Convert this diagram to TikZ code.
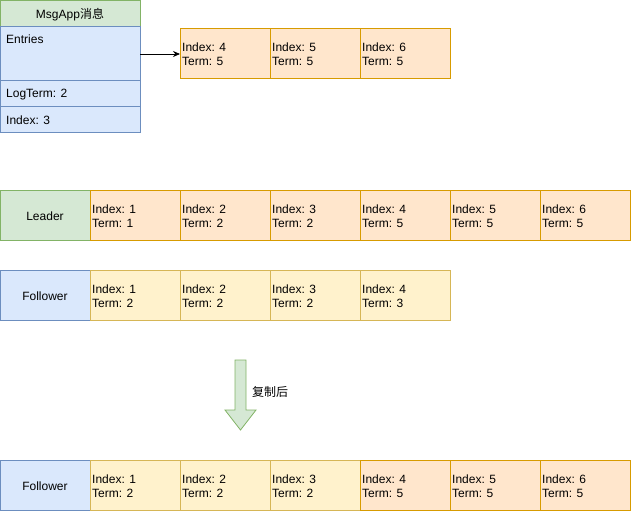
\documentclass[tikz,border=0pt]{standalone}
\usepackage{fontspec}
\setmainfont{Liberation Sans}
\newfontfamily\cjk{Noto Sans CJK SC}
\usetikzlibrary{shapes.arrows,arrows.meta}
\definecolor{gfill}{HTML}{D5E8D4}
\definecolor{gline}{HTML}{82B366}
\definecolor{bfill}{HTML}{DAE8FC}
\definecolor{bline}{HTML}{6C8EBF}
\definecolor{ofill}{HTML}{FFE6CC}
\definecolor{oline}{HTML}{D79B00}
\definecolor{yfill}{HTML}{FFF2CC}
\definecolor{yline}{HTML}{D6B656}
\tikzset{
  base/.style={inner sep=0pt,outer sep=0pt,line width=0.8pt,font=\fontsize{12}{14}\selectfont},
  gbox/.style={base,fill=gfill,draw=gline},
  bbox/.style={base,fill=bfill,draw=bline},
  ocell/.style={base,fill=ofill,draw=oline},
  ycell/.style={base,fill=yfill,draw=yline},
  ctxt/.style={font=\fontsize{12}{14}\selectfont,inner sep=0pt,align=left,anchor=west},
}
\newcommand{\cell}[6]{% name, style, x, y, index, term
  \path[#2] (#3,#4) rectangle ++(90,50);
  \node[ctxt] (#1) at (#3+2,#4+26) {Index: #5\\Term: #6};
}
\begin{document}
\begin{tikzpicture}[x=1pt,y=-1pt]
\useasboundingbox (0,0) rectangle (631,511);
% MsgApp
\path[gbox] (0.5,0.5) rectangle (140,26);
\node[base] (hdr) at (70,14.5) {MsgApp{\cjk 消息}};
\path[bbox] (0.5,26) rectangle (140,80);
\node[ctxt,anchor=north west] (ent) at (6,34.5) {Entries};
\path[bbox] (0.5,80) rectangle (140,106);
\node[ctxt] (lt) at (6,94.5) {LogTerm: 2};
\path[bbox] (0.5,106) rectangle (140,132);
\node[ctxt] (ix) at (6,120.5) {Index: 3};
\coordinate (entR) at (140,54);
\coordinate (cellL) at (180,54);
\draw[line width=0.8pt,-{Stealth[length=7pt,width=6pt]}] (entR) -- (cellL);
% top entries
\cell{t4}{ocell}{180}{28}{4}{5}
\cell{t5}{ocell}{270}{28}{5}{5}
\cell{t6}{ocell}{360}{28}{6}{5}
% Leader
\path[gbox] (0.5,190) rectangle (90,240);
\node[base] (leader) at (45,216.5) {Leader};
\cell{l1}{ocell}{90}{190}{1}{1}
\cell{l2}{ocell}{180}{190}{2}{2}
\cell{l3}{ocell}{270}{190}{3}{2}
\cell{l4}{ocell}{360}{190}{4}{5}
\cell{l5}{ocell}{450}{190}{5}{5}
\path[ocell] (540,190) rectangle (630.5,240);
\node[ctxt] (l6) at (542,216) {Index: 6\\Term: 5};
% Follower
\path[bbox] (0.5,270) rectangle (90,320);
\node[base] (follower) at (45,296.5) {Follower};
\cell{f1}{ycell}{90}{270}{1}{2}
\cell{f2}{ycell}{180}{270}{2}{2}
\cell{f3}{ycell}{270}{270}{3}{2}
\cell{f4}{ycell}{360}{270}{4}{3}
% block arrow
\path[gbox] (235,360) -- (246,360) -- (246,410) -- (256,410) -- (240.5,430) -- (225,410) -- (235,410) -- cycle;
\node[base,anchor=west] (copy) at (252,391.5) {\cjk 复制后};
% Follower after
\path[bbox] (0.5,460) rectangle (90,510.5);
\node[base] (follower2) at (45,486.5) {Follower};
\cell{g1}{ycell}{90}{460}{1}{2}
\cell{g2}{ycell}{180}{460}{2}{2}
\cell{g3}{ycell}{270}{460}{3}{2}
\cell{g4}{ocell}{360}{460}{4}{5}
\cell{g5}{ocell}{450}{460}{5}{5}
\path[ocell] (540,460) rectangle (630.5,510.5);
\node[ctxt] (g6) at (542,486) {Index: 6\\Term: 5};
\end{tikzpicture}
\end{document}
